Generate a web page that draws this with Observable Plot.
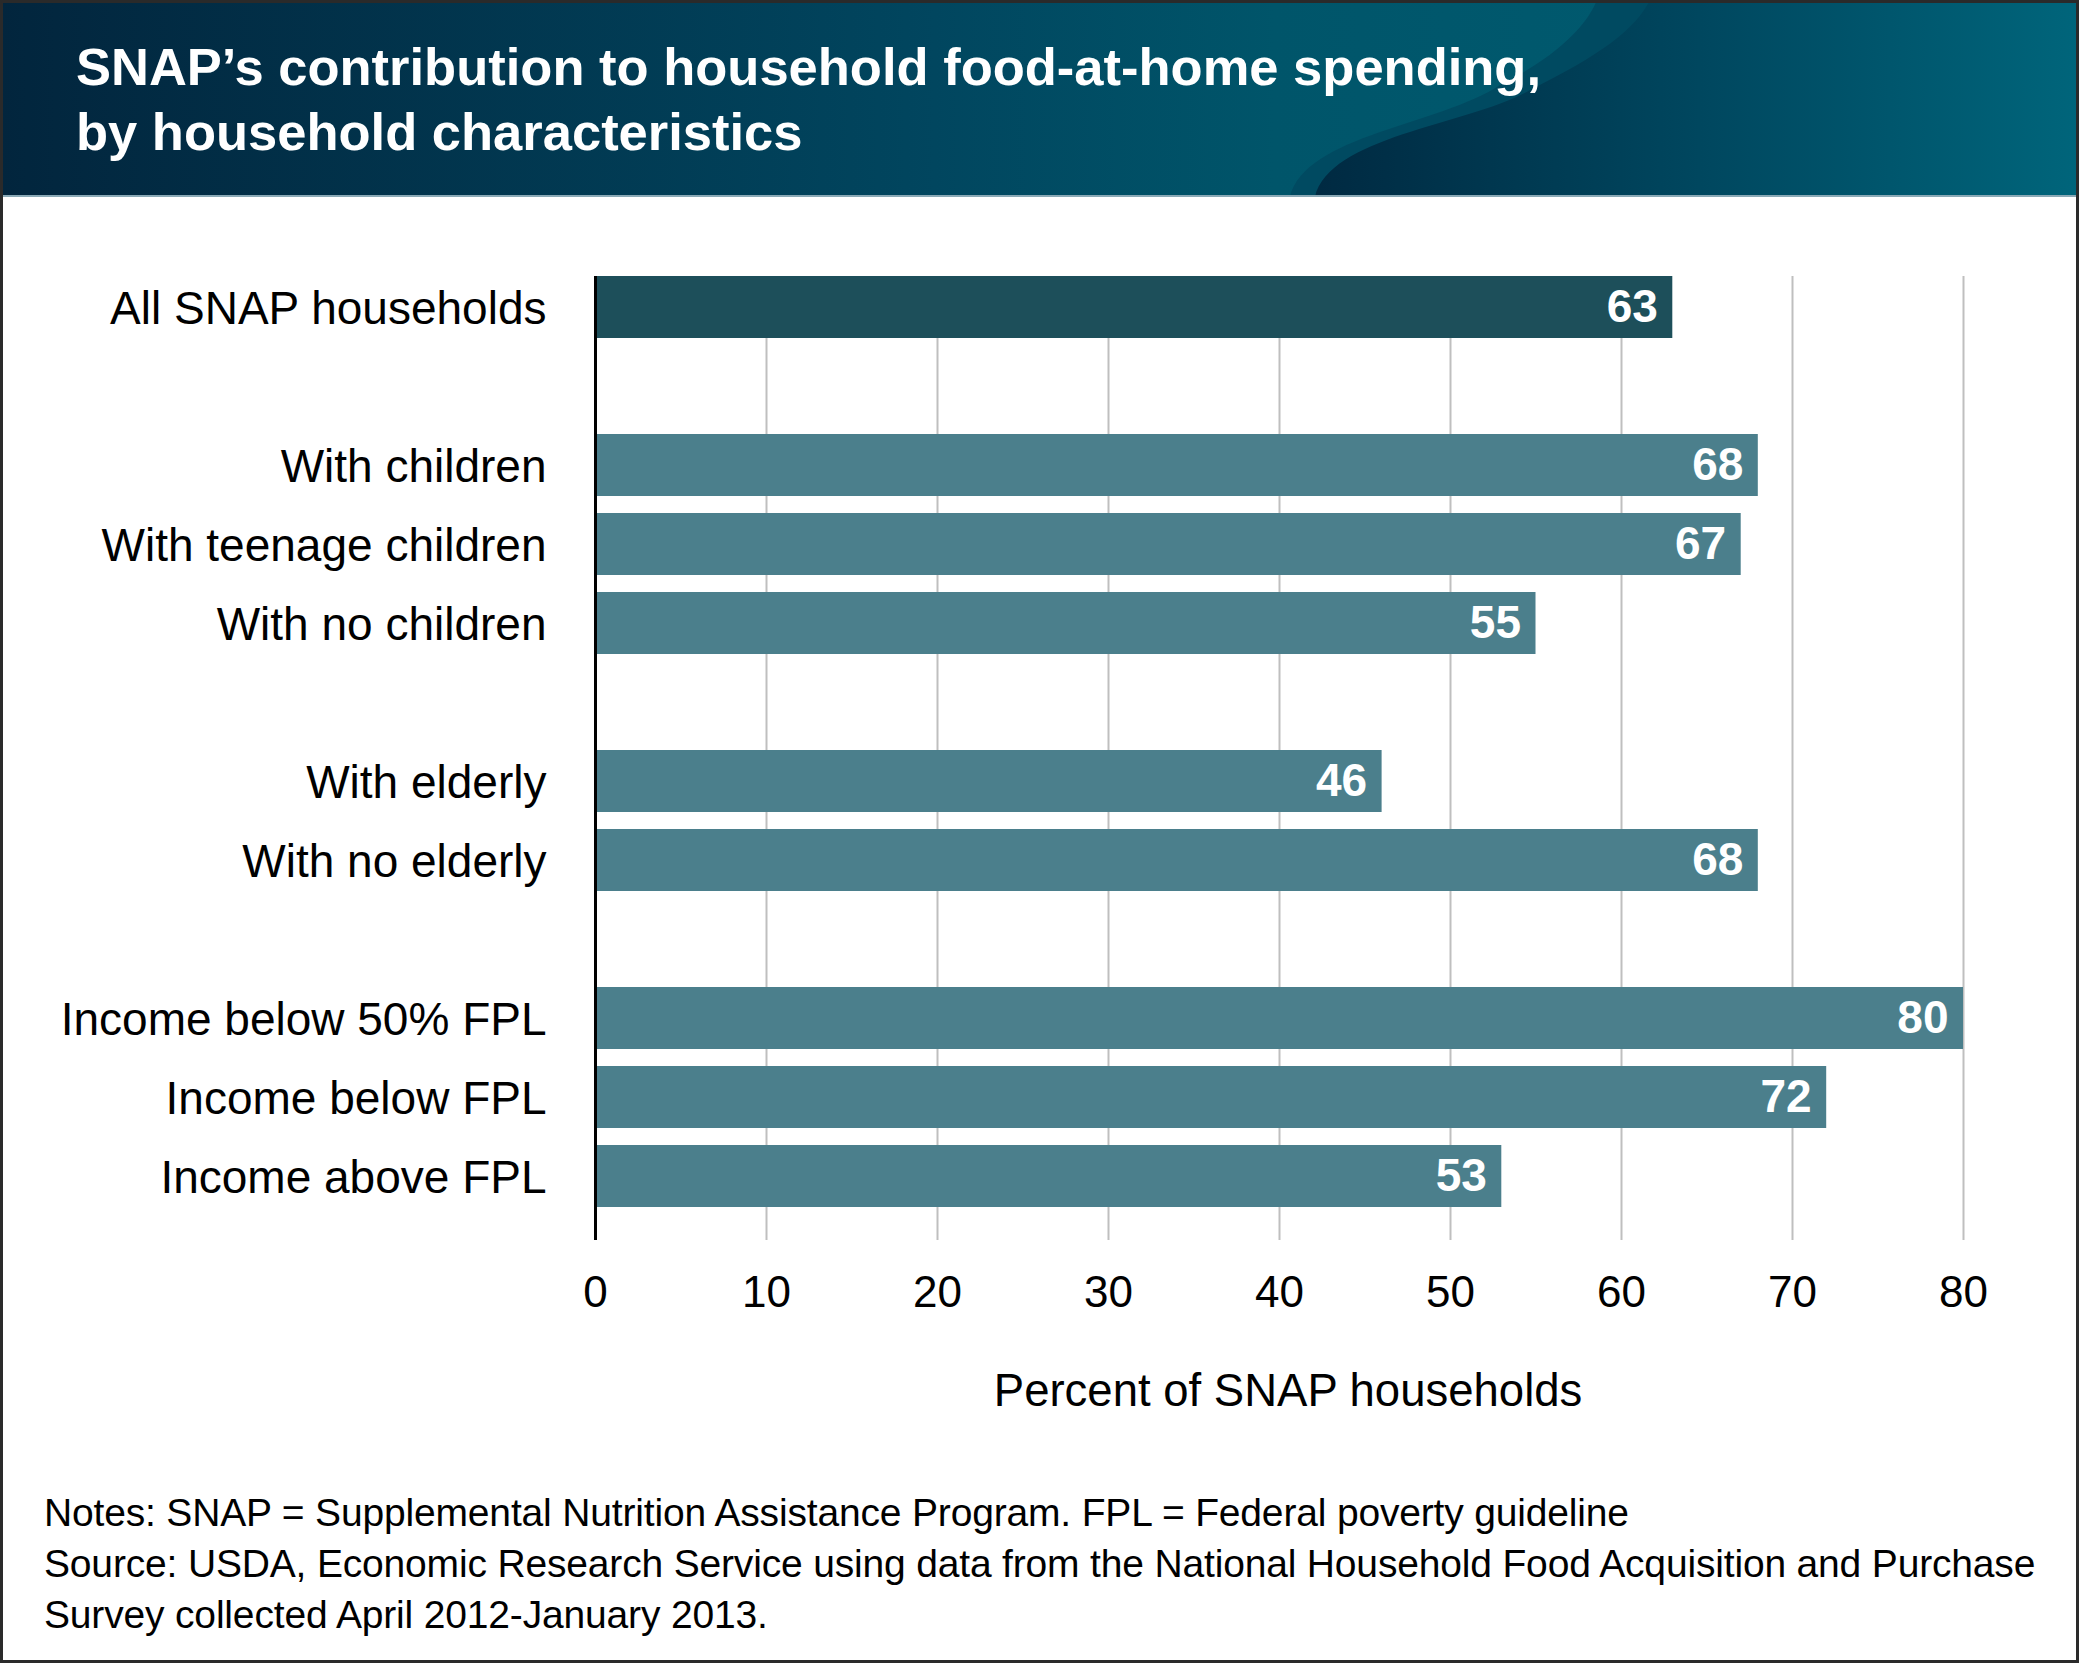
<!DOCTYPE html>
<html>
<head>
<meta charset="utf-8">
<script src="https://cdn.jsdelivr.net/npm/d3@7"></script>
<script src="https://cdn.jsdelivr.net/npm/@observablehq/plot@0.6"></script>
<style>
  html, body { margin: 0; padding: 0; background: #fff; overflow: hidden; }
  #page { position: relative; width: 2079px; height: 1663px; background: #fff; font-family: "Liberation Sans", Arial, Helvetica, sans-serif; }
  #header { position: absolute; left: 0; top: 0; width: 2079px; height: 197px; }
  #header svg { position: absolute; left: 0; top: 0; }
  #title { position: absolute; left: 76px; top: 34px; color: #fff; font-weight: bold; font-size: 52.5px; line-height: 65px; margin: 0; white-space: nowrap; }
  #chart { position: absolute; left: 0; top: 197px; }
  #notes { position: absolute; left: 44px; top: 1487px; font-size: 39px; letter-spacing: -0.17px; line-height: 51px; color: #000; white-space: nowrap; }
  #border { position: absolute; left: 0; top: 0; width: 2079px; height: 1663px; box-sizing: border-box; border: 3px solid #2a2a2a; pointer-events: none; }
</style>
</head>
<body>
<div id="page">
  <div id="header">
    <svg width="2079" height="197" viewBox="0 0 2079 197">
      <defs>
        <linearGradient id="gBase" x1="0" x2="1700" y1="0" y2="0" gradientUnits="userSpaceOnUse">
          <stop offset="0" stop-color="#02253d"/>
          <stop offset="0.55" stop-color="#01465f"/>
          <stop offset="0.75" stop-color="#00556a"/>
          <stop offset="1" stop-color="#005a6f"/>
        </linearGradient>
        <linearGradient id="gRight" x1="1320" x2="2079" y1="0" y2="0" gradientUnits="userSpaceOnUse">
          <stop offset="0" stop-color="#002a42"/>
          <stop offset="0.5" stop-color="#00475f"/>
          <stop offset="1" stop-color="#00657b"/>
        </linearGradient>
      </defs>
      <rect x="0" y="0" width="2079" height="197" fill="url(#gBase)"/>
      <path d="M1290,197 C1305,135 1440,125 1500,85 C1550,60 1585,30 1597,0 L2079,0 L2079,197 Z" fill="#004a61"/>
      <path d="M1315,197 C1330,135 1470,125 1530,90 C1600,55 1635,30 1650,0 L2079,0 L2079,197 Z" fill="url(#gRight)"/>
      <rect x="0" y="195" width="2079" height="2" fill="#8aa9b6"/>
    </svg>
    <div id="title">SNAP’s contribution to household food-at-home spending,<br>by household characteristics</div>
  </div>
  <div id="chart"></div>
  <div id="notes">Notes: SNAP = Supplemental Nutrition Assistance Program. FPL = Federal poverty guideline<br>Source: USDA, Economic Research Service using data from the National Household Food Acquisition and Purchase<br>Survey collected April 2012-January 2013.</div>
  <div id="border"></div>
</div>
<script>
// ---- data ----
const categories = [
  "All SNAP households",
  "With children",
  "With teenage children",
  "With no children",
  "With elderly",
  "With no elderly",
  "Income below 50% FPL",
  "Income below FPL",
  "Income above FPL"
];
const values = [63, 68, 67, 55, 46, 68, 80, 72, 53];
const groups = ["all", "sub", "sub", "sub", "sub", "sub", "sub", "sub", "sub"];
// row order including blank spacer rows between groups
const rowOrder = [
  "All SNAP households", " ",
  "With children", "With teenage children", "With no children", "  ",
  "With elderly", "With no elderly", "   ",
  "Income below 50% FPL", "Income below FPL", "Income above FPL"
];
const xTicks = [0, 10, 20, 30, 40, 50, 60, 70, 80];
const xLabel = "Percent of SNAP households";

const data = categories.map((c, i) => ({label: c, value: values[i], group: groups[i]}));

const chart = Plot.plot({
  width: 2079,
  height: 1260,
  marginTop: 79,
  marginBottom: 217,
  marginLeft: 595,
  marginRight: 116,
  style: {fontFamily: '"Liberation Sans", Arial, Helvetica, sans-serif', background: "transparent", color: "#000"},
  x: {domain: [0, 80], ticks: xTicks},
  y: {domain: rowOrder, paddingInner: 0.21, paddingOuter: 0.2, align: 0},
  color: {domain: ["all", "sub"], range: ["#1d4f5a", "#4b7f8c"]},
  marks: [
    Plot.gridX(xTicks, {stroke: "#bfbfbf", strokeOpacity: 1, strokeWidth: 2}),
    Plot.barX(data, {x: "value", y: "label", fill: "group"}),
    Plot.ruleX([0], {stroke: "#000", strokeWidth: 3}),
    Plot.axisX({ticks: xTicks, tickSize: 0, tickPadding: 35, fontSize: 44, label: null, anchor: "bottom"}),
    Plot.axisY({ticks: categories, tickSize: 0, tickPadding: 49, fontSize: 46, label: null, dy: 2}),
    Plot.text(data, {x: "value", y: "label", text: d => String(d.value), textAnchor: "end", dx: -15, fill: "white", fontWeight: "bold", fontSize: 46}),
    Plot.text([xLabel], {x: 40.5, frameAnchor: "bottom", lineAnchor: "bottom", dy: 165, fontSize: 45.5, text: d => d})
  ]
});
document.getElementById("chart").appendChild(chart);
</script>
</body>
</html>
